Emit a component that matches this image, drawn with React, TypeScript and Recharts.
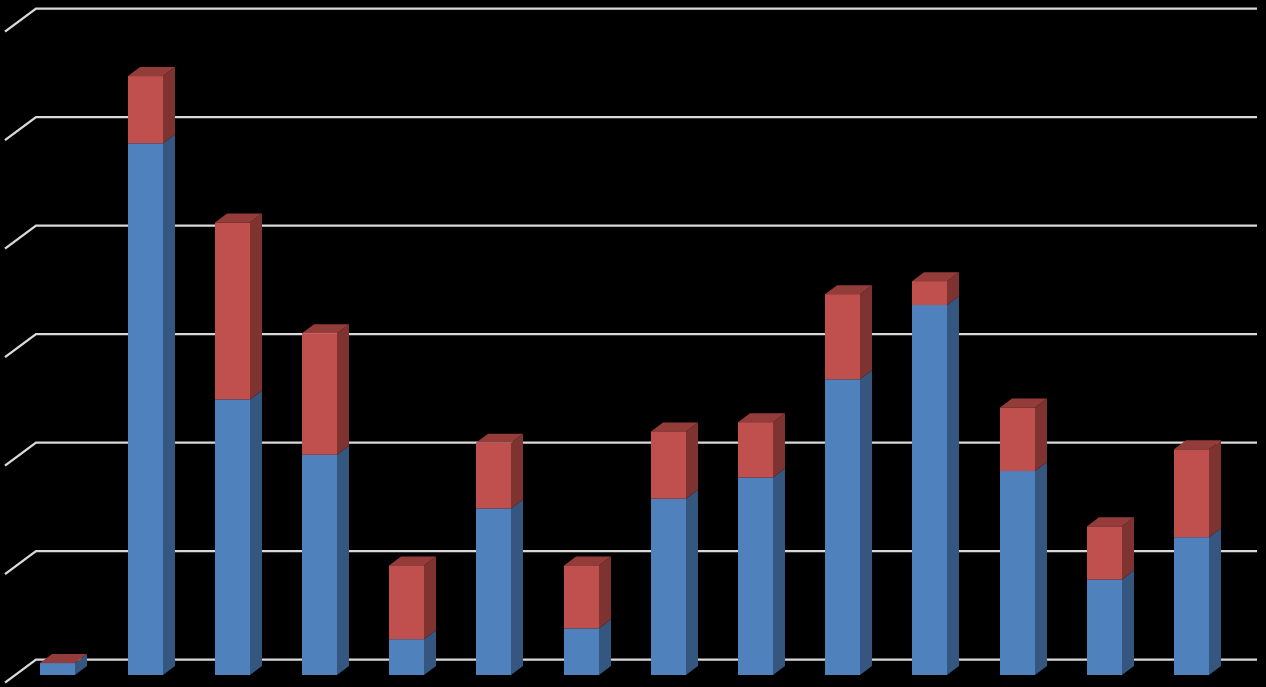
import React from "react";
import { BarChart, Bar, XAxis, YAxis, CartesianGrid } from "recharts";

const categories = ["1", "2", "3", "4", "5", "6", "7", "8", "9", "10", "11", "12", "13", "14"];
const blueValues = [1.1, 49.0, 25.4, 20.3, 3.3, 15.35, 4.3, 16.25, 18.2, 27.25, 34.1, 18.8, 8.8, 12.7];
const redValues = [0.01, 6.2, 16.3, 11.2, 6.8, 6.05, 5.8, 6.2, 5.1, 7.85, 2.2, 5.85, 4.9, 8.1];
const yTicks = [0, 10, 20, 30, 40, 50, 60];

const data = categories.map((c, i) => ({ c, blue: blueValues[i], red: redValues[i] }));

const DX = 12;
const DY = 9;

function Bar3D(props: any) {
  const { y, width, height, front, side, top } = props;
  const x = Math.round(props.x);
  const r = x + width;
  const b = y + height;
  return (
    <g>
      <polygon
        points={`${r},${y} ${r + DX},${y - DY} ${r + DX},${b - DY} ${r},${b}`}
        fill={side}
      />
      {top ? (
        <polygon
          points={`${x},${y} ${x + DX},${y - DY} ${r + DX},${y - DY} ${r},${y}`}
          fill={top}
        />
      ) : null}
      <rect x={x} y={y} width={width} height={height} fill={front} />
    </g>
  );
}

function WallLine(props: any) {
  const { x1, y1 } = props;
  const y = y1 - 15.4;
  return (
    <path
      d={`M ${x1 - 9.4} ${y + 23} L ${x1 + 21.6} ${y} L ${x1 + 1242.6} ${y}`}
      fill="none"
      stroke="#D9D9D9"
      strokeWidth={2.4}
    />
  );
}

export default function App() {
  return (
    <div
      style={{
        position: "absolute",
        left: 0,
        top: 0,
        width: 1266,
        height: 687,
        background: "#000",
        overflow: "hidden",
      }}
    >
      <BarChart
        width={1266}
        height={687}
        data={data}
        barSize={35}
        margin={{ top: 24, right: 30.8, bottom: 12, left: 14.4 }}
      >
        <CartesianGrid horizontal={WallLine as any} vertical={false} />
        <XAxis dataKey="c" hide />
        <YAxis hide domain={[0, 60]} ticks={yTicks} />
        <Bar
          dataKey="blue"
          stackId="a"
          isAnimationActive={false}
          shape={(p: any) => <Bar3D {...p} front="#4F81BD" side="#35567E" />}
        />
        <Bar
          dataKey="red"
          stackId="a"
          isAnimationActive={false}
          shape={(p: any) => <Bar3D {...p} front="#C0504D" side="#7F3331" top="#933C3A" />}
        />
      </BarChart>
    </div>
  );
}
